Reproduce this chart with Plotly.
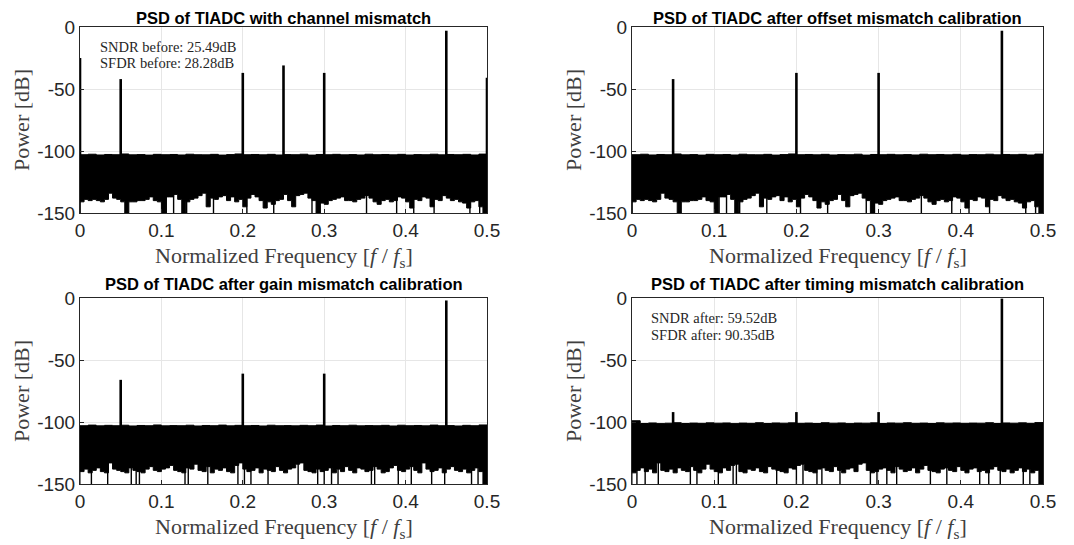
import plotly.graph_objects as go

# ---------------- data ----------------
titles = ["PSD of TIADC with channel mismatch",
          "PSD of TIADC after offset mismatch calibration",
          "PSD of TIADC after gain mismatch calibration",
          "PSD of TIADC after timing mismatch calibration"]

# tones / spurs: frequency and peak power (dB)
tl_f = [0.0, 0.05, 0.2, 0.25, 0.3, 0.45, 0.5]
tl_p = [-25, -42, -37, -31, -37, -3, -41]
tr_f = [0.05, 0.2, 0.3, 0.45]
tr_p = [-42, -37, -37, -3]
bl_f = [0.05, 0.2, 0.3, 0.45]
bl_p = [-66, -61, -61, -2]
br_f = [0.05, 0.2, 0.3, 0.45]
br_p = [-92, -92, -92, -0.5]

# noise floor upper envelope (0.01 steps)
upper_top = [-103, -102.6, -103.2, -102.8, -103, -102.4, -103.1, -102.9, -103.3, -102.7,
             -103, -102.8, -103.2, -102.6, -103, -103.1, -102.7, -103.3, -102.9, -102.4,
             -103, -102.8, -103.1, -102.7, -103.2, -102.9, -103, -102.6, -103.3, -102.8,
             -103, -102.7, -103.1, -102.9, -103.2, -102.6, -103, -102.8, -103.1, -102.7,
             -103.2, -102.9, -103, -102.6, -103.1, -102.8, -103, -102.7, -103.2, -102.5, -103]
upper_bl = [-103, -102.5, -103.1, -102.7, -103, -102.6, -103.2, -102.8, -103, -102.4,
            -103.1, -102.9, -103, -102.6, -103.2, -102.8, -103, -102.5, -103.1, -102.7,
            -103, -102.8, -103.2, -102.6, -103, -102.9, -103.1, -102.7, -103, -102.5,
            -103.2, -102.8, -103, -102.6, -103.1, -102.9, -103, -102.7, -103.2, -102.6,
            -103, -102.8, -103.1, -102.5, -103, -102.9, -103.2, -102.7, -103, -102.4, -103]
upper_br = [-99, -101.2, -100.8, -101.3, -101, -100.6, -101.2, -100.9, -101.1, -100.7,
            -101, -100.8, -101.3, -100.9, -101.1, -100.6, -101.2, -100.8, -101, -100.7,
            -101.1, -100.9, -101.2, -100.6, -101, -100.8, -101.3, -100.9, -101, -100.7,
            -101.2, -100.8, -101, -100.6, -101.1, -100.9, -101.2, -100.7, -101, -100.8,
            -101.1, -100.9, -101, -100.6, -101.2, -100.8, -101, -100.7, -101.1, -100.5, -100]

# noise floor lower envelope (0.005 steps)
lower_top = [-150, -141, -139, -140, -139, -140, -141, -139, -134, -138,
             -139, -141, -150, -141, -141, -140, -140, -139, -137, -140,
             -141, -150, -137, -137, -135, -139, -150, -141, -139, -138,
             -136, -134, -145, -138, -139, -137, -136, -140, -137, -141,
             -139, -145, -138, -135, -137, -140, -146, -141, -143, -140,
             -139, -135, -140, -145, -136, -135, -134, -138, -140, -150,
             -142, -143, -140, -139, -138, -137, -140, -140, -141, -139,
             -138, -136, -138, -141, -143, -140, -139, -141, -140, -137,
             -138, -141, -146, -139, -140, -137, -138, -145, -139, -140,
             -136, -138, -140, -139, -141, -142, -146, -141, -140, -145, -150]
lower_bl = [-150, -140, -138, -141, -139, -137, -140, -141, -133, -138,
            -139, -140, -141, -137, -139, -140, -141, -138, -136, -139,
            -140, -138, -137, -135, -139, -140, -141, -137, -138, -134,
            -139, -140, -136, -141, -138, -139, -137, -140, -141, -135,
            -133, -138, -140, -139, -137, -141, -138, -139, -140, -136,
            -139, -141, -138, -137, -134, -133, -139, -140, -141, -138,
            -140, -139, -137, -141, -138, -140, -136, -139, -141, -137,
            -138, -140, -139, -136, -138, -141, -140, -137, -135, -139,
            -140, -138, -136, -139, -141, -133, -138, -140, -139, -137,
            -141, -138, -136, -139, -140, -138, -141, -139, -137, -140, -150]
lower_br = [-150, -141, -139, -137, -140, -138, -141, -133, -139, -140,
            -138, -141, -137, -139, -140, -136, -139, -141, -138, -134,
            -138, -140, -141, -137, -139, -135, -134, -140, -141, -138,
            -139, -137, -140, -141, -136, -138, -139, -140, -141, -137,
            -138, -135, -134, -139, -140, -141, -138, -137, -139, -140,
            -136, -139, -141, -138, -137, -140, -134, -133, -139, -141,
            -140, -138, -137, -139, -141, -136, -138, -140, -139, -137,
            -141, -138, -135, -139, -140, -141, -138, -137, -139, -140,
            -136, -139, -141, -138, -137, -140, -139, -141, -138, -136,
            -139, -140, -138, -141, -139, -137, -140, -138, -141, -139, -150]

# frequencies where the noise dips to the bottom of the axis
dips_top = [0.0, 0.057, 0.106, 0.115, 0.127, 0.131, 0.164, 0.205, 0.238, 0.285, 0.295,
            0.352, 0.389, 0.41, 0.435, 0.479, 0.491, 0.5]
dips_bl = [0.014, 0.034, 0.063, 0.069, 0.073, 0.129, 0.133, 0.157, 0.194, 0.202, 0.21,
           0.231, 0.268, 0.292, 0.3, 0.309, 0.317, 0.358, 0.362, 0.391, 0.407, 0.432,
           0.448, 0.481, 0.489, 0.5]
dips_br = [0.006, 0.016, 0.032, 0.071, 0.079, 0.105, 0.123, 0.127, 0.176, 0.2, 0.208,
           0.225, 0.231, 0.253, 0.29, 0.298, 0.31, 0.322, 0.363, 0.383, 0.423, 0.434,
           0.448, 0.476, 0.484, 0.496]

notes_tl = ["SNDR before: 25.49dB", "SFDR before: 28.28dB"]
notes_br = ["SNDR after: 59.52dB", "SFDR after: 90.35dB"]

x_ticks = [0, 0.1, 0.2, 0.3, 0.4, 0.5]
y_ticks = [-150, -100, -50, 0]

# ---------------- figure ----------------
f_up = [round(i * 0.01, 3) for i in range(51)]
f_low = [round(i * 0.005, 4) for i in range(101)]

panels = [
    dict(f=tl_f, p=tl_p, up=upper_top, low=lower_top, dips=dips_top, ax=""),
    dict(f=tr_f, p=tr_p, up=upper_top, low=lower_top, dips=dips_top, ax="2"),
    dict(f=bl_f, p=bl_p, up=upper_bl, low=lower_bl, dips=dips_bl, ax="3"),
    dict(f=br_f, p=br_p, up=upper_br, low=lower_br, dips=dips_br, ax="4"),
]

W, H = 1074, 545
OFF = 8  # page body margin offset
doms_x = [(80, 487), (632, 1043), (80, 487), (632, 1043)]
doms_y = [(27, 213), (27, 213), (298, 484), (298, 484)]

fig = go.Figure()
for pn in panels:
    xa, ya = "x" + pn["ax"], "y" + pn["ax"]
    # noise band
    fig.add_trace(go.Scatter(
        x=f_up + f_low[::-1], y=pn["up"] + pn["low"][::-1],
        mode="lines", fill="toself", fillcolor="black",
        line=dict(color="black", width=1, shape="hv"), xaxis=xa, yaxis=ya,
        showlegend=False, hoverinfo="skip"))
    # dips
    dx, dy = [], []
    for f in pn["dips"]:
        dx += [f, f, None]
        dy += [-125, -150, None]
    fig.add_trace(go.Scatter(x=dx, y=dy, mode="lines",
                             line=dict(color="black", width=1.4),
                             xaxis=xa, yaxis=ya, showlegend=False, hoverinfo="skip"))
    # tones
    sx, sy = [], []
    for f, p in zip(pn["f"], pn["p"]):
        sx += [f, f, None]
        sy += [-104, p, None]
    fig.add_trace(go.Scatter(x=sx, y=sy, mode="lines",
                             line=dict(color="black", width=2.6),
                             xaxis=xa, yaxis=ya, showlegend=False, hoverinfo="skip"))

axis_common = dict(showline=True, mirror=True, linecolor="#262626", linewidth=1,
                   ticks="inside", ticklen=4, tickcolor="#262626",
                   showgrid=True, gridcolor="#e6e6e6", gridwidth=1, zeroline=False,
                   automargin=False,
                   tickfont=dict(family="Liberation Sans, Arial", size=19, color="#262626"))

layout = dict(width=W, height=H,
              margin=dict(l=0, r=0, t=0, b=0, pad=0, autoexpand=False),
              paper_bgcolor="white", plot_bgcolor="white", showlegend=False)
annotations = []
for i, pn in enumerate(panels):
    suf = pn["ax"]
    x0, x1 = doms_x[i][0] - OFF, doms_x[i][1] - OFF
    y0, y1 = doms_y[i][0] - OFF, doms_y[i][1] - OFF
    layout["xaxis" + suf] = dict(axis_common, domain=[x0 / W, x1 / W], range=[0, 0.5],
                                 tickvals=x_ticks, ticktext=[str(v) for v in x_ticks],
                                 anchor="y" + suf)
    layout["yaxis" + suf] = dict(axis_common, domain=[1 - y1 / H, 1 - y0 / H], range=[-150, 0],
                                 tickvals=y_ticks, ticktext=[str(v) for v in y_ticks],
                                 anchor="x" + suf)
    cx = (x0 + x1) / 2 / W
    ty = min(1.0, 1 - (y0 - 24) / H)
    annotations.append(dict(text="<b>" + titles[i] + "</b>", x=cx, y=ty,
                            xref="paper", yref="paper", showarrow=False,
                            xanchor="center", yanchor="top", borderpad=0,
                            font=dict(family="Liberation Sans, Arial", size=16.5, color="black")))
    annotations.append(dict(text="Normalized Frequency [<i>f</i> / <i>f</i><sub>s</sub>]",
                            x=cx, y=1 - (y1 + 44) / H, xref="paper", yref="paper",
                            showarrow=False, xanchor="center", yanchor="middle",
                            font=dict(family="Liberation Serif, serif", size=22, color="#404040")))
    annotations.append(dict(text="Power [dB]", x=(x0 - 59) / W, y=1 - (y0 + y1) / 2 / H,
                            xref="paper", yref="paper", showarrow=False, textangle=-90,
                            xanchor="center", yanchor="middle",
                            font=dict(family="Liberation Serif, serif", size=22, color="#404040")))

for j, t in enumerate(notes_tl):
    annotations.append(dict(text=t, x=0.022, y=-16 - j * 13, xref="x", yref="y",
                            showarrow=False, xanchor="left", yanchor="middle",
                            font=dict(family="Liberation Serif, serif", size=14.5, color="#262626")))
for j, t in enumerate(notes_br):
    annotations.append(dict(text=t, x=0.0207, y=-16 - j * 13.5, xref="x4", yref="y4",
                            showarrow=False, xanchor="left", yanchor="middle",
                            font=dict(family="Liberation Serif, serif", size=14.5, color="#262626")))

layout["annotations"] = annotations
fig.update_layout(**layout)
fig.write_html("out.html")
